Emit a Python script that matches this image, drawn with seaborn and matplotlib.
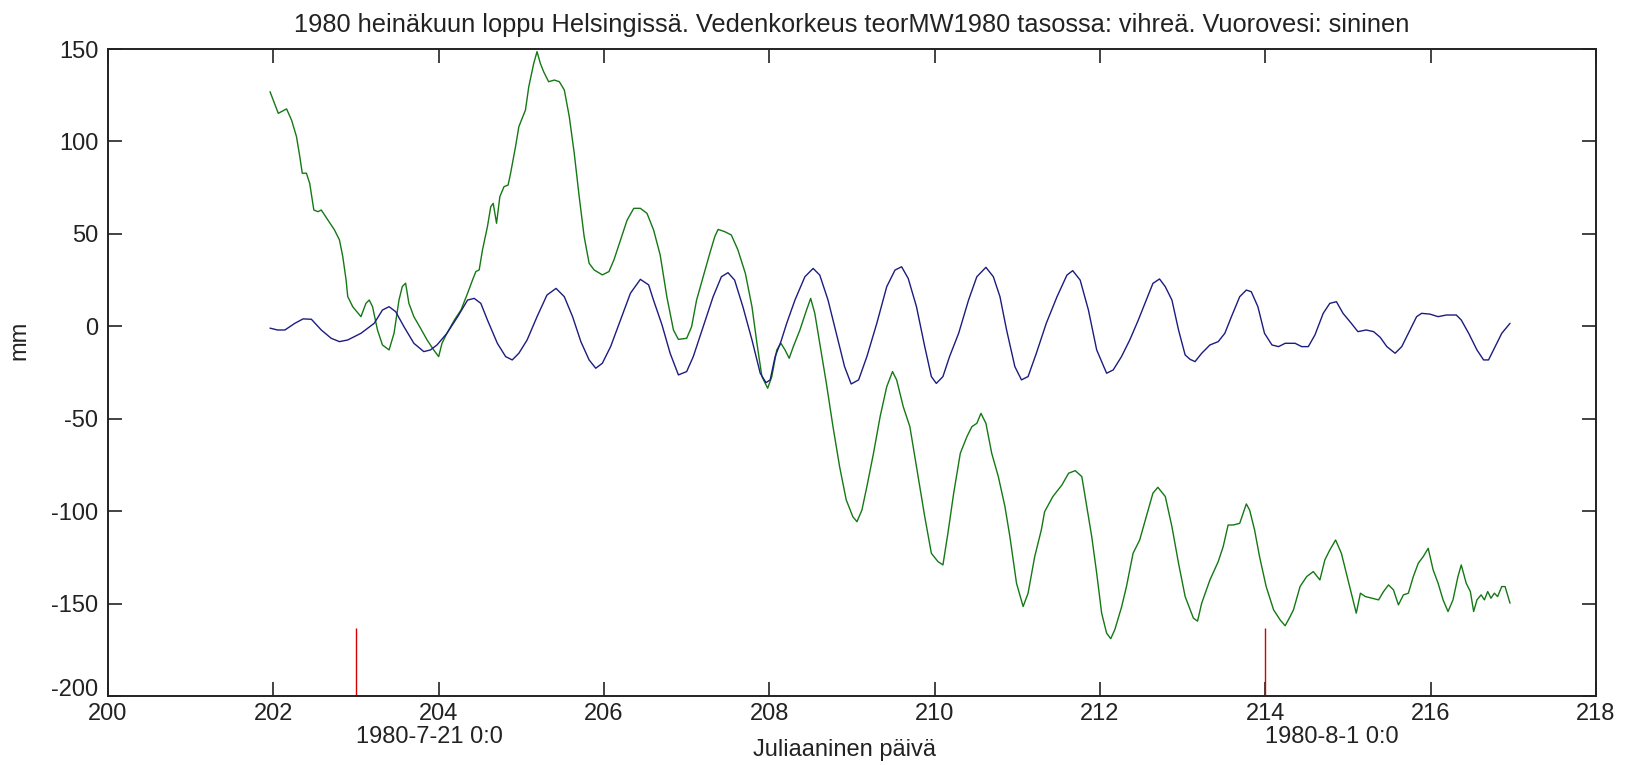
import numpy as np
import pandas as pd
import matplotlib
matplotlib.use("Agg")
import matplotlib.pyplot as plt
import matplotlib.transforms as mtransforms
import seaborn as sns

# ---- data ----
green_day = [201.96, 202.06, 202.16, 202.22, 202.28, 202.32, 202.35, 202.40, 202.44, 202.49,
             202.54, 202.58, 202.66, 202.74, 202.80, 202.84, 202.88, 202.90, 202.96, 203.06,
             203.12, 203.16, 203.20, 203.26, 203.32, 203.40, 203.46, 203.52, 203.56, 203.60,
             203.64, 203.70, 203.78, 203.86, 203.94, 204.00, 204.04, 204.10, 204.19, 204.27,
             204.35, 204.41, 204.45, 204.49, 204.53, 204.59, 204.63, 204.66, 204.70, 204.74,
             204.79, 204.84, 204.87, 204.93, 204.97, 205.01, 205.05, 205.09, 205.15, 205.19,
             205.23, 205.27, 205.33, 205.40, 205.46, 205.52, 205.58, 205.64, 205.70, 205.76,
             205.82, 205.88, 205.98, 206.06, 206.12, 206.20, 206.28, 206.36, 206.44, 206.52,
             206.60, 206.68, 206.76, 206.84, 206.90, 207.00, 207.06, 207.12, 207.20, 207.28,
             207.34, 207.38, 207.46, 207.54, 207.62, 207.71, 207.79, 207.85, 207.91, 207.98,
             208.03, 208.09, 208.14, 208.19, 208.24, 208.29, 208.37, 208.45, 208.50, 208.55,
             208.61, 208.69, 208.77, 208.85, 208.93, 209.01, 209.06, 209.12, 209.18, 209.26,
             209.34, 209.42, 209.49, 209.54, 209.62, 209.70, 209.80, 209.88, 209.96, 210.04,
             210.10, 210.16, 210.23, 210.31, 210.39, 210.45, 210.51, 210.56, 210.62, 210.69,
             210.77, 210.85, 210.91, 210.99, 211.07, 211.13, 211.21, 211.29, 211.33, 211.43,
             211.54, 211.62, 211.70, 211.78, 211.84, 211.90, 211.96, 212.02, 212.08, 212.13,
             212.18, 212.26, 212.32, 212.40, 212.48, 212.56, 212.64, 212.70, 212.79, 212.87,
             212.95, 213.03, 213.13, 213.18, 213.23, 213.33, 213.43, 213.49, 213.55, 213.61,
             213.69, 213.77, 213.81, 213.87, 213.93, 214.01, 214.10, 214.18, 214.24, 214.30,
             214.34, 214.42, 214.50, 214.58, 214.66, 214.72, 214.78, 214.85, 214.92, 214.98,
             215.04, 215.10, 215.15, 215.21, 215.29, 215.37, 215.43, 215.49, 215.55, 215.61,
             215.67, 215.73, 215.79, 215.85, 215.91, 215.97, 216.03, 216.09, 216.15, 216.21,
             216.27, 216.33, 216.37, 216.43, 216.48, 216.52, 216.56, 216.61, 216.65, 216.69,
             216.73, 216.77, 216.81, 216.86, 216.90, 216.96]
green_mm = [126.9, 115.2, 117.6, 111.6, 102.6, 91.8, 82.8, 82.8, 77.3, 62.9,
            62.0, 62.9, 57.5, 52.1, 46.7, 37.7, 25.1, 16.1, 10.6, 5.2,
            12.4, 14.2, 10.6, -2.0, -10.1, -12.8, -3.8, 14.2, 21.5, 23.3,
            12.4, 5.2, -1.0, -7.4, -12.8, -16.4, -9.2, -3.8, 3.4, 8.8,
            17.9, 25.1, 29.6, 30.5, 41.3, 53.9, 64.7, 66.5, 55.7, 70.1,
            75.5, 76.4, 82.8, 97.2, 108.0, 112.5, 117.0, 129.6, 142.2, 148.6,
            142.2, 137.7, 132.3, 133.2, 132.3, 127.8, 113.4, 93.6, 70.1, 48.5,
            34.1, 30.5, 27.8, 29.6, 35.9, 46.7, 57.5, 63.8, 63.8, 61.1,
            52.1, 38.5, 16.0, -2.0, -7.1, -6.5, -0.2, 14.2, 26.8, 39.5,
            48.5, 52.4, 51.2, 49.4, 41.3, 28.6, 10.6, -9.2, -27.2, -33.5,
            -27.2, -12.8, -9.2, -12.8, -17.3, -11.0, -2.0, 8.8, 15.1, 7.0,
            -9.2, -30.9, -54.3, -75.9, -93.9, -103.0, -105.7, -99.4, -86.7, -68.7,
            -48.9, -32.7, -24.5, -29.0, -43.5, -54.3, -81.3, -103.0, -122.8, -127.3,
            -129.1, -112.0, -90.3, -68.7, -59.7, -54.3, -52.5, -47.1, -52.5, -68.7,
            -81.3, -97.5, -113.8, -139.0, -151.6, -144.4, -124.6, -110.2, -100.3, -92.1,
            -85.8, -79.5, -78.1, -81.3, -97.5, -113.8, -133.6, -155.2, -166.0, -169.0,
            -164.0, -152.0, -140.8, -122.8, -115.6, -103.0, -90.3, -87.1, -92.1, -108.4,
            -128.2, -146.2, -157.9, -159.5, -149.8, -137.2, -127.3, -119.2, -107.5, -107.5,
            -106.6, -96.1, -99.4, -110.2, -124.6, -140.8, -153.4, -158.9, -162.0, -157.0,
            -153.4, -140.8, -135.4, -132.7, -137.2, -126.4, -121.0, -115.6, -122.8, -133.6,
            -144.4, -155.2, -144.4, -146.2, -147.1, -148.0, -143.5, -139.9, -142.6, -150.7,
            -145.3, -144.4, -135.4, -128.2, -124.6, -120.1, -131.8, -139.0, -148.0, -154.3,
            -148.0, -135.4, -129.1, -139.0, -143.5, -154.3, -148.0, -145.3, -148.0, -143.5,
            -147.1, -144.4, -146.2, -140.8, -140.8, -149.8]

blue_day = [201.96, 202.05, 202.14, 202.26, 202.36, 202.46, 202.58, 202.70, 202.80, 202.90,
            203.06, 203.22, 203.32, 203.40, 203.48, 203.58, 203.70, 203.82, 203.90, 203.98,
            204.10, 204.23, 204.35, 204.43, 204.51, 204.59, 204.71, 204.81, 204.89, 204.97,
            205.07, 205.19, 205.31, 205.42, 205.52, 205.62, 205.72, 205.82, 205.90, 205.98,
            206.08, 206.20, 206.32, 206.44, 206.54, 206.60, 206.70, 206.80, 206.90, 207.00,
            207.08, 207.20, 207.32, 207.42, 207.50, 207.58, 207.68, 207.79, 207.89, 207.96,
            208.01, 208.07, 208.14, 208.21, 208.31, 208.43, 208.53, 208.61, 208.71, 208.81,
            208.91, 208.99, 209.08, 209.18, 209.30, 209.42, 209.52, 209.60, 209.68, 209.78,
            209.88, 209.96, 210.02, 210.10, 210.18, 210.29, 210.41, 210.51, 210.62, 210.71,
            210.79, 210.87, 210.97, 211.05, 211.13, 211.23, 211.35, 211.48, 211.60, 211.67,
            211.76, 211.86, 211.96, 212.08, 212.16, 212.26, 212.36, 212.46, 212.56, 212.64,
            212.72, 212.79, 212.87, 212.95, 213.03, 213.09, 213.15, 213.23, 213.33, 213.43,
            213.51, 213.59, 213.69, 213.77, 213.83, 213.91, 213.99, 214.08, 214.16, 214.24,
            214.36, 214.44, 214.52, 214.60, 214.70, 214.78, 214.86, 214.94, 215.04, 215.12,
            215.22, 215.31, 215.39, 215.47, 215.57, 215.65, 215.75, 215.83, 215.89, 215.99,
            216.09, 216.19, 216.31, 216.37, 216.46, 216.56, 216.64, 216.70, 216.78, 216.86,
            216.96]
blue_mm = [-1.0, -2.0, -2.0, 1.6, 4.0, 3.8, -2.0, -6.5, -8.3, -7.4,
           -3.8, 1.6, 8.8, 10.6, 7.9, -0.2, -9.2, -13.7, -12.8, -10.1,
           -3.8, 5.2, 14.2, 15.1, 12.4, 3.4, -9.2, -16.4, -18.2, -14.6,
           -7.4, 5.2, 16.9, 20.5, 16.0, 5.2, -8.3, -18.2, -22.7, -20.0,
           -11.0, 3.4, 17.9, 25.4, 22.4, 14.0, 1.0, -14.6, -26.3, -24.5,
           -16.4, -0.2, 16.0, 26.8, 29.0, 25.0, 10.6, -7.4, -25.4, -30.5,
           -29.0, -16.4, -8.3, 1.6, 14.2, 26.8, 31.3, 27.7, 14.2, -3.8,
           -21.8, -31.2, -29.0, -16.4, 1.6, 21.4, 30.4, 32.2, 25.9, 10.6,
           -11.0, -27.2, -30.9, -27.2, -16.4, -3.8, 14.2, 26.8, 31.9, 26.8,
           16.0, -2.0, -21.8, -29.0, -27.2, -14.6, 1.6, 16.0, 27.7, 30.1,
           25.0, 8.8, -12.8, -25.4, -23.6, -16.4, -7.4, 3.0, 14.2, 23.2,
           25.6, 21.4, 14.2, -2.0, -15.5, -17.9, -19.1, -14.6, -10.1, -8.3,
           -3.8, 5.2, 16.0, 19.6, 18.7, 10.6, -3.8, -10.1, -11.0, -9.2,
           -9.2, -11.0, -11.0, -4.7, 7.0, 12.4, 13.3, 7.0, 1.6, -2.9,
           -2.0, -2.9, -6.0, -11.0, -14.6, -11.0, -2.0, 5.2, 7.0, 6.6,
           5.2, 6.1, 6.1, 3.4, -3.8, -12.8, -18.2, -18.2, -11.0, -3.8,
           1.6]

marker_days = [203, 214]
marker_labels = ["1980-7-21 0:0", "1980-8-1 0:0"]
marker_top_mm = -163

x_ticks = [200, 202, 204, 206, 208, 210, 212, 214, 216, 218]
y_ticks = [-200, -150, -100, -50, 0, 50, 100, 150]

title = ("1980 heinäkuun loppu Helsingissä. Vedenkorkeus teorMW1980 tasossa: vihreä. "
         "Vuorovesi: sininen")

# ---- style ----
sns.set_theme(style="white")
plt.rcParams["font.family"] = ["Liberation Sans", "DejaVu Sans"]
FS = 17
TXT = "#222222"

fig = plt.figure(figsize=(16.29, 7.65), dpi=100)
ax = fig.add_axes([108 / 1629, 1 - 696 / 765, 1488 / 1629, 647 / 765])

green_df = pd.DataFrame({"day": green_day, "mm": green_mm})
blue_df = pd.DataFrame({"day": blue_day, "mm": blue_mm})

sns.lineplot(data=green_df, x="day", y="mm", estimator=None, sort=False,
             color="#147814", lw=1.0, ax=ax)
sns.lineplot(data=blue_df, x="day", y="mm", estimator=None, sort=False,
             color="#1c1c80", lw=1.0, ax=ax)

ax.vlines(marker_days, ymin=-200, ymax=marker_top_mm, color="#d40000", lw=1.0)

ax.set_xlim(200, 218)
ax.set_ylim(-200, 150)
ax.set_xticks(x_ticks)
ax.set_yticks(y_ticks)
ax.set_xticklabels([str(t) for t in x_ticks], fontsize=FS)
ax.set_yticklabels([str(t) for t in y_ticks], fontsize=FS)
ax.tick_params(direction="in", length=10, width=1.2, top=True, right=True,
               bottom=True, left=True, colors=TXT, labelcolor=TXT)
ax.tick_params(axis="x", pad=5)
ax.tick_params(axis="y", pad=7)
for s in ax.spines.values():
    s.set_visible(True)
    s.set_color(TXT)
    s.set_linewidth(1.4)

# lift the lowest y tick label slightly, as in the reference
lowest = ax.get_yticklabels()[0]
lowest.set_transform(lowest.get_transform() +
                     mtransforms.ScaledTranslation(0, 6 / 72, fig.dpi_scale_trans))

for d, lab in zip(marker_days, marker_labels):
    ax.text(d, -222, lab, ha="left", va="center", fontsize=FS,
            color=TXT, clip_on=False)

ax.set_xlabel("Juliaaninen päivä", fontsize=FS, color=TXT)
ax.xaxis.set_label_coords(0.495, -0.066)
ax.set_ylabel("mm", fontsize=FS, color=TXT)
ax.yaxis.set_label_coords(-0.052, 0.55)
ax.set_title(title, fontsize=18.3, color=TXT, pad=12)

fig.savefig("out.png", dpi=100, facecolor="white")
